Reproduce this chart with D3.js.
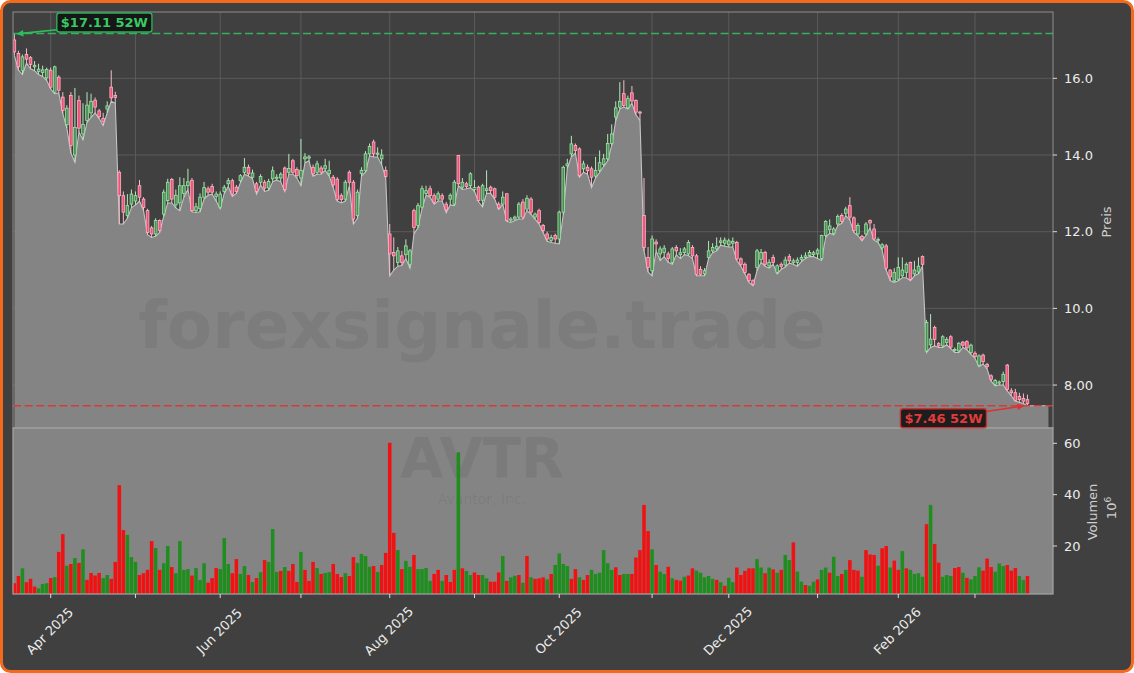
<!DOCTYPE html>
<html><head><meta charset="utf-8">
<script src="https://cdn.jsdelivr.net/npm/d3@7"></script>
<style>html,body{margin:0;padding:0;background:#ffffff;} svg{display:block;}</style>
</head><body><svg id="c" width="1134" height="673"></svg>
<script>
// ---------- DATA (AVTR daily, Mar 19 2025 – Mar 19 2026) ----------
const open = [17.00,16.65,16.21,16.62,16.54,16.30,16.18,16.15,16.01,16.21,15.64,16.03,15.51,14.79,15.55,14.00,15.42,14.55,14.90,15.10,15.43,15.15,14.95,15.20,15.77,15.55,13.55,12.94,12.42,12.72,12.80,13.20,12.85,12.55,12.10,11.94,12.29,12.46,12.81,13.36,12.70,12.75,13.00,13.20,13.34,12.55,12.60,12.90,13.12,13.18,12.92,12.64,13.05,13.25,13.33,13.16,13.33,13.55,13.68,13.42,13.25,13.29,13.29,13.14,13.38,13.40,13.40,13.66,13.55,13.85,13.62,13.40,13.90,13.92,13.68,13.55,13.66,13.64,13.51,13.42,13.37,12.94,12.85,13.55,13.29,12.42,13.52,13.59,14.03,14.34,14.02,13.90,13.60,11.94,11.46,11.20,11.37,11.40,11.15,12.55,12.16,12.64,13.00,13.12,12.94,12.85,12.94,12.72,12.85,12.72,13.99,13.16,13.25,13.20,13.10,13.16,12.82,13.07,13.16,13.12,12.72,12.72,12.99,12.30,12.33,12.38,12.77,12.59,12.85,12.38,12.55,12.16,11.94,11.77,11.90,11.81,12.51,13.72,14.03,14.25,14.16,13.64,13.68,13.64,13.45,13.60,13.75,13.90,14.30,14.99,15.25,15.60,15.23,15.62,15.42,15.12,12.42,11.33,10.98,11.73,11.42,11.46,11.42,11.20,11.59,11.40,11.46,11.42,11.59,11.37,11.02,10.90,11.33,11.50,11.55,11.72,11.70,11.66,11.70,11.72,11.29,11.15,10.89,10.72,11.07,11.28,11.46,11.11,11.33,10.94,11.15,11.13,11.35,11.20,11.20,11.28,11.33,11.38,11.40,11.42,11.30,11.90,12.05,11.96,12.20,12.42,12.48,12.68,12.36,11.94,11.88,11.94,12.29,12.07,11.78,11.58,11.63,11.00,10.72,10.76,10.85,10.94,11.20,10.90,10.95,11.35,8.89,9.05,9.50,9.08,9.02,9.11,9.26,8.90,8.89,9.12,9.13,8.85,8.83,8.52,8.78,8.54,8.24,8.02,8.05,8.09,8.52,7.85,7.80,7.70,7.65,7.62];
const high = [17.17,16.72,16.62,16.78,16.58,16.45,16.38,16.33,16.28,16.28,16.33,16.08,15.64,15.30,15.64,15.75,15.55,15.35,15.64,15.60,15.50,15.20,15.10,15.40,16.21,15.65,13.60,13.05,12.98,13.10,13.05,13.35,12.90,12.60,12.15,12.35,12.32,13.10,13.38,13.40,13.10,13.42,13.40,13.64,13.40,12.75,13.00,13.30,13.18,13.25,13.05,13.05,13.22,13.40,13.38,13.22,13.50,13.92,13.75,13.62,13.30,13.50,13.35,13.38,13.70,13.50,13.55,13.70,14.03,13.90,13.68,14.42,14.05,14.00,13.75,13.85,13.72,13.90,13.85,13.48,13.42,13.00,13.35,13.60,13.35,13.10,13.68,14.10,14.30,14.40,14.20,14.15,13.70,12.20,11.85,11.60,11.50,11.80,11.55,12.60,12.75,13.20,13.20,13.20,13.00,13.05,13.00,12.78,13.00,13.35,14.00,13.40,13.30,13.55,13.35,13.20,13.25,13.60,13.20,13.15,12.78,13.05,13.00,12.38,12.42,12.77,12.85,12.95,12.90,12.50,12.60,12.20,12.00,11.92,11.95,12.55,13.72,13.90,14.50,14.30,14.20,13.85,13.75,13.70,13.95,14.12,14.03,14.55,14.80,15.40,15.90,15.95,15.55,15.80,15.45,15.15,13.40,11.60,11.90,11.80,11.62,11.65,11.48,11.60,11.65,11.57,11.60,11.78,11.65,11.42,11.10,11.05,11.76,11.70,11.85,11.85,11.85,11.82,11.85,11.76,11.33,11.20,10.92,10.76,11.55,11.55,11.50,11.28,11.40,11.15,11.20,11.35,11.42,11.30,11.33,11.40,11.46,11.52,11.50,11.57,11.92,12.30,12.32,12.12,12.45,12.48,12.65,12.90,12.40,12.22,11.92,12.25,12.32,12.20,11.85,11.70,11.68,11.02,11.05,11.33,11.33,11.20,11.22,11.24,11.33,11.38,9.70,9.85,9.55,9.12,9.30,9.25,9.30,8.98,9.12,9.15,9.17,9.08,8.88,8.80,8.82,8.58,8.28,8.16,8.12,8.35,8.55,7.92,7.90,7.80,7.78,7.75];
const low = [16.60,16.22,16.10,16.40,16.25,16.20,16.10,16.05,15.95,15.72,15.60,15.62,15.08,14.70,14.05,13.81,14.60,14.40,14.85,14.98,15.10,14.95,14.77,15.10,15.40,15.35,12.20,12.20,12.35,12.62,12.70,12.80,12.55,11.92,11.85,11.88,11.98,12.40,12.75,12.75,12.62,12.55,12.90,13.10,12.52,12.50,12.52,12.85,12.95,12.98,12.80,12.60,13.00,13.18,12.92,13.00,13.28,13.50,13.45,13.38,12.98,13.22,13.05,13.08,13.30,13.35,13.30,13.05,13.50,13.50,13.40,13.20,13.80,13.85,13.45,13.50,13.50,13.60,13.45,13.15,12.80,12.75,12.80,13.20,12.20,12.35,13.45,13.55,13.98,13.95,13.95,13.75,13.40,10.85,11.00,11.10,11.12,11.30,11.05,11.95,12.10,12.60,12.95,12.90,12.72,12.80,12.80,12.50,12.70,12.68,13.20,13.10,13.12,13.15,13.05,12.78,12.65,13.00,13.00,12.85,12.58,12.72,12.27,12.24,12.29,12.33,12.33,12.55,12.45,12.33,12.20,11.98,11.75,11.72,11.70,11.68,12.45,13.65,13.95,14.05,13.42,13.55,13.50,13.15,13.40,13.55,13.70,13.85,14.25,14.90,15.20,15.25,15.20,15.35,15.05,14.90,11.50,10.95,10.85,11.50,11.25,11.35,11.20,11.15,11.40,11.30,11.40,11.38,11.30,10.85,10.85,10.85,11.30,11.45,11.50,11.65,11.62,11.60,11.60,11.25,11.10,10.90,10.68,10.59,10.98,11.20,11.10,11.05,11.15,10.90,11.02,11.08,11.18,11.15,11.10,11.22,11.30,11.35,11.35,11.30,11.25,11.85,11.96,11.92,12.16,12.22,12.42,12.30,11.98,11.90,11.76,11.90,12.10,11.78,11.72,11.52,11.00,10.72,10.68,10.72,10.80,10.80,10.72,10.85,10.90,11.10,8.85,8.98,9.02,8.98,8.98,9.05,8.95,8.85,8.85,8.98,8.92,8.80,8.70,8.48,8.55,8.42,8.10,7.98,8.00,8.00,7.85,7.72,7.58,7.55,7.52,7.46];
const close = [16.69,16.30,16.56,16.50,16.36,16.34,16.24,16.22,16.23,15.77,16.30,15.69,15.16,15.22,14.25,14.72,14.70,14.80,15.30,15.40,15.25,15.00,14.88,15.28,15.49,15.50,12.94,12.51,12.68,12.98,12.94,12.90,12.63,11.98,11.94,12.29,12.03,13.03,13.29,12.85,12.95,13.20,13.20,13.30,12.55,12.65,12.90,13.15,13.03,13.03,12.98,12.98,13.16,13.33,12.98,13.05,13.46,13.68,13.51,13.53,13.05,13.44,13.14,13.31,13.59,13.42,13.50,13.10,13.65,13.55,13.46,13.60,13.95,13.95,13.51,13.77,13.55,13.72,13.60,13.22,12.84,12.84,13.29,13.29,12.33,13.03,13.60,14.03,14.22,14.03,14.05,14.00,13.44,11.42,11.37,11.50,11.20,11.63,11.50,12.11,12.68,13.12,13.07,12.94,12.77,12.99,12.85,12.57,12.95,13.29,13.25,13.29,13.18,13.51,13.15,12.81,13.20,13.12,13.07,12.90,12.62,12.90,12.29,12.33,12.38,12.72,12.38,12.87,12.51,12.46,12.24,12.03,11.81,11.85,11.81,12.51,13.68,13.77,14.29,14.12,13.46,13.77,13.59,13.42,13.60,13.80,13.90,14.30,14.55,15.23,15.40,15.29,15.47,15.41,15.12,15.10,11.59,11.07,11.81,11.68,11.55,11.57,11.30,11.55,11.50,11.45,11.55,11.72,11.37,10.89,10.89,10.98,11.50,11.59,11.62,11.76,11.78,11.76,11.75,11.29,11.15,10.94,10.72,10.63,11.50,11.46,11.15,11.20,11.20,11.11,11.09,11.26,11.24,11.24,11.26,11.33,11.37,11.46,11.45,11.52,11.90,12.27,12.15,12.07,12.40,12.27,12.59,12.38,12.03,12.16,11.81,12.20,12.23,11.81,11.80,11.66,11.05,10.82,10.94,11.07,11.00,11.15,10.75,11.00,11.10,11.15,9.63,9.20,9.19,9.02,9.26,9.19,8.99,8.93,9.09,9.04,8.97,9.04,8.74,8.76,8.61,8.48,8.15,8.12,8.08,8.28,7.89,7.80,7.60,7.62,7.58,7.52];
// volume in millions of shares
const volume = [5.5,8.3,11.3,5.9,7.2,4.2,3.5,5.2,5.5,7.5,7.9,17.7,24.6,12.3,13.0,15.3,13.4,18.7,6.8,9.5,8.5,9.5,7.5,8.7,7.2,13.8,43.7,26.2,24.3,15.7,13.8,8.7,9.4,10.7,21.9,19.2,10.7,13.3,20.0,11.8,9.4,21.9,10.7,11.0,8.5,11.4,6.8,13.3,5.7,7.5,11.4,11.0,23.1,13.0,9.4,14.9,9.1,12.2,8.7,6.0,7.5,9.8,14.5,13.8,26.6,9.9,10.3,11.8,10.3,13.0,6.0,17.7,10.7,6.4,13.8,11.4,9.1,9.5,9.8,13.0,9.1,7.9,9.4,8.3,15.7,13.4,16.9,16.1,11.9,12.2,9.9,12.6,17.3,60.2,25.1,18.4,11.0,14.2,11.9,16.5,11.0,11.0,11.4,6.4,9.1,10.7,6.4,8.7,6.0,10.7,56.5,11.3,10.3,8.7,9.7,8.7,8.7,7.4,6.1,6.1,9.7,16.1,6.4,7.8,8.4,8.7,5.7,16.1,7.8,7.2,7.4,7.8,7.0,9.1,12.6,17.1,13.0,12.2,7.2,11.0,7.8,6.8,8.7,10.7,9.1,9.6,18.4,13.3,10.7,11.7,8.7,9.1,9.1,9.1,15.5,18.4,36.0,25.8,18.7,12.6,10.0,9.1,11.9,7.4,6.8,6.5,8.0,8.5,11.3,10.4,9.6,7.8,8.3,7.2,6.8,5.9,4.5,7.6,5.9,11.6,8.7,10.3,11.3,11.3,14.9,11.6,9.4,11.6,10.9,9.6,10.7,16.5,14.5,21.4,10.0,6.1,4.8,4.5,6.1,7.0,10.7,11.6,9.6,15.8,8.3,9.1,10.7,14.5,10.7,10.4,8.0,18.4,16.7,16.5,12.3,19.1,20.0,11.6,14.3,10.7,18.0,11.3,10.7,9.1,9.4,8.0,28.5,36.0,20.8,13.5,8.0,8.7,8.3,11.4,11.8,9.6,7.6,7.0,8.3,11.7,10.4,15.1,11.8,10.0,13.2,12.2,12.6,10.4,11.4,8.3,6.8,8.3];
// 1 = close above previous close (volume bar up), 0 = down
const volUp = [0,0,1,0,0,0,1,1,1,0,1,0,0,1,0,1,0,1,0,0,0,0,1,1,0,0,0,0,1,1,1,0,0,0,0,1,0,1,1,0,1,1,1,1,0,1,1,1,0,0,0,1,1,1,0,0,1,1,0,1,0,1,0,1,1,1,0,1,0,0,0,1,0,0,0,1,0,1,1,0,0,0,1,0,0,1,1,1,1,0,1,0,0,0,0,1,0,1,1,0,1,1,1,1,0,0,1,0,0,0,1,0,1,1,0,0,1,1,0,0,0,1,0,1,1,0,1,0,1,0,0,0,1,0,1,1,1,1,0,0,1,0,0,1,1,1,1,1,1,0,0,1,1,0,0,0,0,0,1,0,1,1,0,1,0,0,1,0,0,1,1,1,1,1,0,1,0,1,1,0,0,0,0,0,1,1,0,1,0,1,0,1,1,0,1,1,0,1,1,0,1,1,0,1,1,0,1,0,0,0,1,0,0,0,1,0,0,1,0,0,1,0,1,1,1,1,0,1,0,0,1,1,1,0,0,1,0,1,1,1,0,0,0,1,1,1,0,0,0,1,1,0];
const monthTickIdx = [9,30,51,71,93,114,135,158,177,199,219,238];
const monthTickLabels = ["Apr 2025","","Jun 2025","","Aug 2025","","Oct 2025","","Dec 2025","","Feb 2026",""];
const priceTicks = [8,10,12,14,16];
const priceTickLabels = ["8.00","10.0","12.0","14.0","16.0"];
const volTicks = [20,40,60];
const volTickLabels = ["20","40","60"];
const hi52 = 17.11, lo52 = 7.46;
const ticker = "AVTR", company = "Avantor, Inc.", site = "forexsignale.trade";

// ---------- LAYOUT ----------
const W = 1134, H = 673;
const L = 13, R = 1053, PT = 12, PB = 428, VB = 594;
const n = close.length;
const font = "DejaVu Sans, sans-serif";
const svg = d3.select('#c');

const x = d3.scaleLinear().domain([-0.34, 257.33]).range([L, R]);
const step = x(1) - x(0);
const yP = d3.scaleLinear().domain([6.88, 17.73]).range([PB, PT]);
const yV = d3.scaleLinear().domain([1.3, 65.96]).range([VB, PB]);

// background with orange rounded frame
svg.append('rect').attr('x', 1.5).attr('y', 1.5).attr('width', W - 3).attr('height', H - 3)
  .attr('rx', 9).attr('fill', '#404040').attr('stroke', '#f26a1b').attr('stroke-width', 3);

const defs = svg.append('defs');
defs.append('clipPath').attr('id', 'cp').append('rect').attr('x', L).attr('y', PT).attr('width', R - L).attr('height', PB - PT);
defs.append('clipPath').attr('id', 'cv').append('rect').attr('x', L).attr('y', PB).attr('width', R - L).attr('height', VB - PB);

// ---------- PRICE PANEL ----------
const gp = svg.append('g').attr('clip-path', 'url(#cp)');
gp.selectAll('line.hg').data(priceTicks).join('line')
  .attr('x1', L).attr('x2', R).attr('y1', d => yP(d)).attr('y2', d => yP(d))
  .attr('stroke', '#5e5e5e').attr('stroke-width', 0.9);
gp.selectAll('line.vg').data(monthTickIdx).join('line')
  .attr('x1', d => x(d)).attr('x2', d => x(d)).attr('y1', PT).attr('y2', PB)
  .attr('stroke', '#5e5e5e').attr('stroke-width', 0.9);

// area under price (lows), extended slightly past last bar
const areaPts = low.map((v, i) => [i, v]);
areaPts.push([n - 1 + 5.2, low[n - 1]]);
gp.append('path').datum(areaPts)
  .attr('d', d3.area().x(d => x(d[0])).y0(PB).y1(d => yP(d[1])))
  .attr('fill', '#848484');
gp.append('path').datum(areaPts)
  .attr('d', d3.line().x(d => x(d[0])).y(d => yP(d[1])))
  .attr('fill', 'none').attr('stroke', '#c4c4c4').attr('stroke-width', 1.1);

// site watermark
gp.append('text').attr('x', 482).attr('y', 348).attr('text-anchor', 'middle')
  .attr('font-family', font).attr('font-weight', 'bold').attr('font-size', 66)
  .attr('fill', '#000').attr('fill-opacity', 0.06).text(site);

// candles
const idx = d3.range(n);
const upC = i => close[i] >= open[i];
const cg = gp.append('g');
cg.selectAll('line').data(idx).join('line')
  .attr('x1', i => x(i)).attr('x2', i => x(i))
  .attr('y1', i => yP(high[i])).attr('y2', i => yP(low[i]))
  .attr('stroke', i => upC(i) ? '#b4e8ba' : '#f3bccb').attr('stroke-width', 1);
const bw = step * 0.66;
cg.selectAll('rect').data(idx).join('rect')
  .attr('x', i => x(i) - bw / 2).attr('width', bw)
  .attr('y', i => yP(Math.max(open[i], close[i])))
  .attr('height', i => Math.max(1, Math.abs(yP(open[i]) - yP(close[i]))))
  .attr('fill', i => upC(i) ? '#4a8f55' : '#ec5479')
  .attr('stroke', i => upC(i) ? '#9fe3a6' : '#ffb3c4').attr('stroke-width', 0.8);

// 52-week lines
const hiY = yP(d3.max(high)), loY = yP(d3.min(low));
gp.append('line').attr('x1', L).attr('x2', R).attr('y1', hiY).attr('y2', hiY)
  .attr('stroke', '#35b060').attr('stroke-width', 1.6).attr('stroke-dasharray', '8,3.6');
gp.append('line').attr('x1', L).attr('x2', R).attr('y1', loY).attr('y2', loY)
  .attr('stroke', '#d63a3a').attr('stroke-width', 1.6).attr('stroke-dasharray', '8,3.6');

// price frame
svg.append('rect').attr('x', L).attr('y', PT).attr('width', R - L).attr('height', PB - PT)
  .attr('fill', 'none').attr('stroke', '#8e8e8e').attr('stroke-width', 1);

// ---------- VOLUME PANEL ----------
svg.append('rect').attr('x', L).attr('y', PB).attr('width', R - L).attr('height', VB - PB).attr('fill', '#848484');
const gv = svg.append('g').attr('clip-path', 'url(#cv)');
gv.append('text').attr('x', 482).attr('y', 477).attr('text-anchor', 'middle')
  .attr('font-family', font).attr('font-weight', 'bold').attr('font-size', 56)
  .attr('fill', '#000').attr('fill-opacity', 0.065).text(ticker);
gv.append('text').attr('x', 482).attr('y', 504).attr('text-anchor', 'middle')
  .attr('font-family', font).attr('font-size', 14)
  .attr('fill', '#000').attr('fill-opacity', 0.065).text(company);
const vw = step * 0.88;
gv.selectAll('rect.vb').data(idx).join('rect')
  .attr('x', i => x(i) - vw / 2).attr('width', vw)
  .attr('y', i => yV(volume[i])).attr('height', i => VB - yV(volume[i]))
  .attr('fill', i => volUp[i] ? '#1f8e1f' : '#f01212');
svg.append('rect').attr('x', L).attr('y', PB).attr('width', R - L).attr('height', VB - PB)
  .attr('fill', 'none').attr('stroke', '#a6a6a6').attr('stroke-width', 1.2);

// ---------- AXES ----------
const tickCol = '#d9d9d9', labCol = '#ececec';
svg.selectAll('line.pt').data(priceTicks).join('line')
  .attr('x1', R).attr('x2', R + 4).attr('y1', d => yP(d)).attr('y2', d => yP(d)).attr('stroke', tickCol);
svg.selectAll('text.pt').data(priceTicks).join('text')
  .attr('x', R + 11).attr('y', d => yP(d)).attr('dy', '0.36em')
  .attr('font-family', font).attr('font-size', 13).attr('fill', labCol)
  .text((d, i) => priceTickLabels[i]);
svg.selectAll('line.vt').data(volTicks).join('line')
  .attr('x1', R).attr('x2', R + 4).attr('y1', d => yV(d)).attr('y2', d => yV(d)).attr('stroke', tickCol);
svg.selectAll('text.vt').data(volTicks).join('text')
  .attr('x', R + 11).attr('y', d => yV(d)).attr('dy', '0.36em')
  .attr('font-family', font).attr('font-size', 13).attr('fill', labCol)
  .text((d, i) => volTickLabels[i]);

svg.append('text').attr('transform', 'translate(1111,222) rotate(-90)')
  .attr('text-anchor', 'middle').attr('font-family', font).attr('font-size', 13)
  .attr('fill', '#cfcfcf').text('Preis');
svg.append('text').attr('transform', 'translate(1097,512) rotate(-90)')
  .attr('text-anchor', 'middle').attr('font-family', font).attr('font-size', 13)
  .attr('fill', '#cfcfcf').text('Volumen');
const ex = svg.append('text').attr('transform', 'translate(1116,508) rotate(-90)')
  .attr('text-anchor', 'middle').attr('font-family', font).attr('font-size', 13).attr('fill', '#cfcfcf');
ex.append('tspan').text('10');
ex.append('tspan').attr('dy', -5).attr('font-size', 9).text('6');

// x axis
svg.selectAll('line.xt').data(monthTickIdx).join('line')
  .attr('x1', d => x(d)).attr('x2', d => x(d)).attr('y1', VB).attr('y2', VB + 4).attr('stroke', tickCol);
svg.selectAll('text.xt').data(monthTickIdx).join('text')
  .attr('transform', d => `translate(${x(d) - 1},${631}) rotate(-45)`)
  .attr('text-anchor', 'middle').attr('dy', '0.35em')
  .attr('font-family', font).attr('font-size', 13).attr('fill', labCol)
  .text((d, i) => monthTickLabels[i]);

// ---------- ANNOTATIONS ----------
function arrow(x1, y1, x2, y2, col) {
  const a = Math.atan2(y2 - y1, x2 - x1), hl = 7, hw = 3.2;
  svg.append('line').attr('x1', x1).attr('y1', y1)
    .attr('x2', x2 - Math.cos(a) * hl * 0.8).attr('y2', y2 - Math.sin(a) * hl * 0.8)
    .attr('stroke', col).attr('stroke-width', 1.6);
  const p = [[x2, y2],
    [x2 - Math.cos(a) * hl - Math.sin(a) * hw, y2 - Math.sin(a) * hl + Math.cos(a) * hw],
    [x2 - Math.cos(a) * hl + Math.sin(a) * hw, y2 - Math.sin(a) * hl - Math.cos(a) * hw]];
  svg.append('path').attr('d', 'M' + p.join('L') + 'Z').attr('fill', col);
}
function label(cx, cy, txt, col, fillTxt) {
  const g = svg.append('g');
  const r = g.append('rect');
  const t = g.append('text').attr('x', cx).attr('y', cy).attr('dy', '0.36em').attr('text-anchor', 'middle')
    .attr('font-family', font).attr('font-weight', 'bold').attr('font-size', 13).attr('fill', fillTxt).text(txt);
  const w = t.node().getComputedTextLength() + 8, h = 19;
  r.attr('x', cx - w / 2).attr('y', cy - h / 2).attr('width', w).attr('height', h).attr('rx', 2.5)
    .attr('fill', '#121212').attr('fill-opacity', 0.9).attr('stroke', col).attr('stroke-width', 1.4);
}
const hx = x(d3.maxIndex(high)), lx = x(d3.minIndex(low));
arrow(hx + 45, hiY - 4, hx + 2, hiY + 0.5, '#2fbf5a');
label(hx + 90, hiY - 11, '$' + hi52.toFixed(2) + ' 52W', '#2fae55', '#36c964');
arrow(lx - 43, loY + 6, lx - 3, loY, '#e03030');
label(lx - 84, loY + 12.5, '$' + lo52.toFixed(2) + ' 52W', '#c83232', '#e23b3b');
</script></body></html>
